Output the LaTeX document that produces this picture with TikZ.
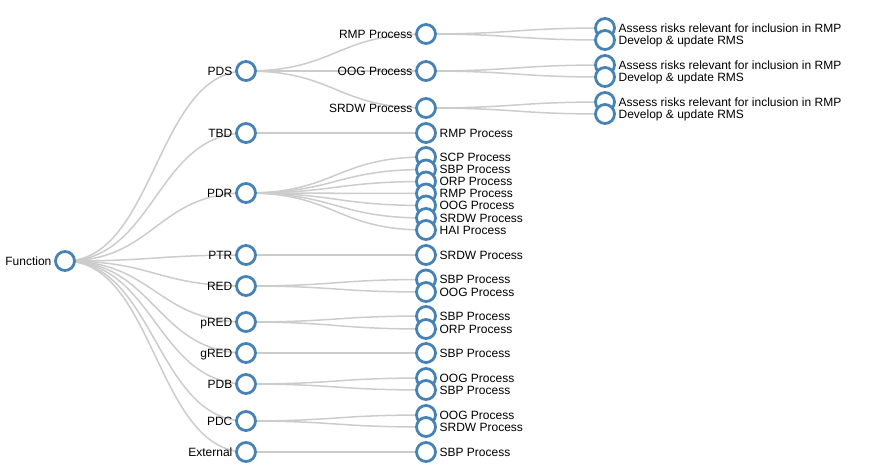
\documentclass[tikz,border=0pt]{standalone}
\usepackage{fontspec}
\setmainfont{Liberation Sans}
\usetikzlibrary{backgrounds}
\definecolor{nodeblue}{RGB}{70,130,180}
\definecolor{linkgray}{RGB}{204,204,204}

\begin{document}
\begin{tikzpicture}[
    x=1pt, y=-1pt,
    vtx/.style={circle,draw=nodeblue,fill=white,line width=2.8pt,minimum size=19pt,inner sep=0pt,outer sep=0pt},
    lbl/.style={font=\fontsize{12}{14}\selectfont,text=black,text height=8.6pt,text depth=0.2pt,inner sep=3.9pt},
    every label/.style={lbl},
    label distance=0pt,
    link/.style={draw=linkgray,line width=1.5pt,out=0,in=180,distance=90pt}
  ]
  \useasboundingbox (0,0) rectangle (876,472);
  % root
  \node[vtx,label=left:Function] (fn) at (65,261) {};
  % functions
  \node[vtx,label=left:PDS] (pds) at (246,71) {};
  \node[vtx,label=left:TBD] (tbd) at (246,133) {};
  \node[vtx,label=left:PDR] (pdr) at (246,193) {};
  \node[vtx,label=left:PTR] (ptr) at (246,255) {};
  \node[vtx,label=left:RED] (red) at (246,286) {};
  \node[vtx,label=left:pRED] (pred) at (246,322) {};
  \node[vtx,label=left:gRED] (gred) at (246,353) {};
  \node[vtx,label=left:PDB] (pdb) at (246,384) {};
  \node[vtx,label=left:PDC] (pdc) at (246,421) {};
  \node[vtx,label=left:External] (ext) at (246,452) {};
  % processes
  \node[vtx,label=left:RMP Process] (pdsRmp) at (426,34) {};
  \node[vtx,label=left:OOG Process] (pdsOog) at (426,71) {};
  \node[vtx,label=left:SRDW Process] (pdsSrdw) at (426,108) {};
  \node[vtx,label=right:RMP Process] (tbdRmp) at (426,133) {};
  \node[vtx,label=right:SCP Process] (pdrScp) at (426,157) {};
  \node[vtx,label=right:SBP Process] (pdrSbp) at (426,169.5) {};
  \node[vtx,label=right:ORP Process] (pdrOrp) at (426,181.5) {};
  \node[vtx,label=right:RMP Process] (pdrRmp) at (426,193.5) {};
  \node[vtx,label=right:OOG Process] (pdrOog) at (426,205.5) {};
  \node[vtx,label=right:SRDW Process] (pdrSrdw) at (426,218) {};
  \node[vtx,label=right:HAI Process] (pdrHai) at (426,230) {};
  \node[vtx,label=right:SRDW Process] (ptrSrdw) at (426,255) {};
  \node[vtx,label=right:SBP Process] (redSbp) at (426,279.5) {};
  \node[vtx,label=right:OOG Process] (redOog) at (426,292) {};
  \node[vtx,label=right:SBP Process] (predSbp) at (426,316) {};
  \node[vtx,label=right:ORP Process] (predOrp) at (426,329) {};
  \node[vtx,label=right:SBP Process] (gredSbp) at (426,353) {};
  \node[vtx,label=right:OOG Process] (pdbOog) at (426,378) {};
  \node[vtx,label=right:SBP Process] (pdbSbp) at (426,390) {};
  \node[vtx,label=right:OOG Process] (pdcOog) at (426,415) {};
  \node[vtx,label=right:SRDW Process] (pdcSrdw) at (426,427) {};
  \node[vtx,label=right:SBP Process] (extSbp) at (426,452) {};
  % tasks
  \node[vtx,label=right:Assess risks relevant for inclusion in RMP] (rmpAssess) at (605,28) {};
  \node[vtx,label=right:Develop \& update RMS] (rmpDevelop) at (605,40) {};
  \node[vtx,label=right:Assess risks relevant for inclusion in RMP] (oogAssess) at (605,65) {};
  \node[vtx,label=right:Develop \& update RMS] (oogDevelop) at (605,77) {};
  \node[vtx,label=right:Assess risks relevant for inclusion in RMP] (srdwAssess) at (605,102) {};
  \node[vtx,label=right:Develop \& update RMS] (srdwDevelop) at (605,114) {};
  % links
  \begin{scope}[on background layer]
    \foreach \f in {pds,tbd,pdr,ptr,red,pred,gred,pdb,pdc,ext}
      \draw[link] (fn.center) to (\f.center);
    \foreach \p in {Rmp,Oog,Srdw}
      \draw[link] (pds.center) to (pds\p.center);
    \draw[link] (tbd.center) to (tbdRmp.center);
    \foreach \p in {Scp,Sbp,Orp,Rmp,Oog,Srdw,Hai}
      \draw[link] (pdr.center) to (pdr\p.center);
    \draw[link] (ptr.center) to (ptrSrdw.center);
    \draw[link] (red.center) to (redSbp.center);
    \draw[link] (red.center) to (redOog.center);
    \draw[link] (pred.center) to (predSbp.center);
    \draw[link] (pred.center) to (predOrp.center);
    \draw[link] (gred.center) to (gredSbp.center);
    \draw[link] (pdb.center) to (pdbOog.center);
    \draw[link] (pdb.center) to (pdbSbp.center);
    \draw[link] (pdc.center) to (pdcOog.center);
    \draw[link] (pdc.center) to (pdcSrdw.center);
    \draw[link] (ext.center) to (extSbp.center);
    \draw[link] (pdsRmp.center) to (rmpAssess.center);
    \draw[link] (pdsRmp.center) to (rmpDevelop.center);
    \draw[link] (pdsOog.center) to (oogAssess.center);
    \draw[link] (pdsOog.center) to (oogDevelop.center);
    \draw[link] (pdsSrdw.center) to (srdwAssess.center);
    \draw[link] (pdsSrdw.center) to (srdwDevelop.center);
  \end{scope}
\end{tikzpicture}
\end{document}
